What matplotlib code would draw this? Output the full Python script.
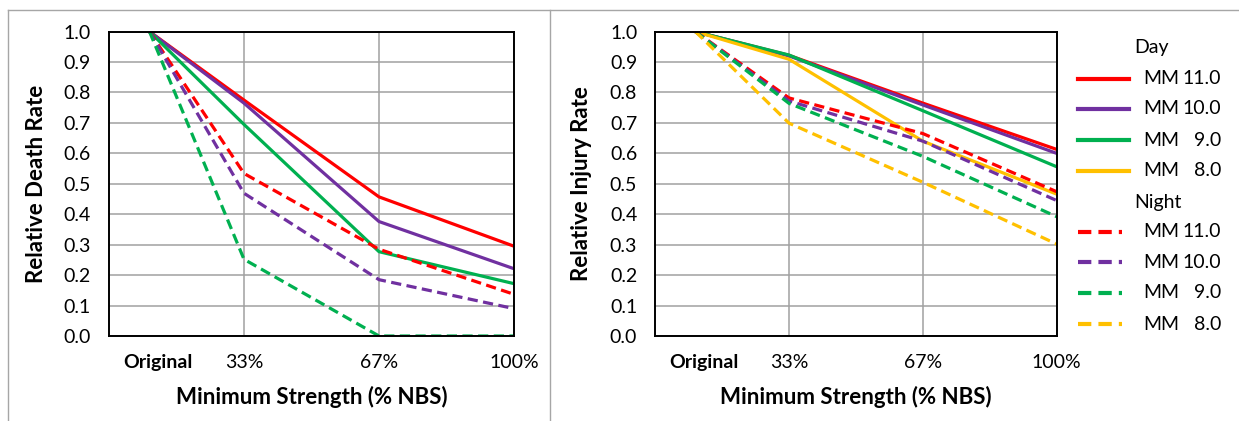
import matplotlib
matplotlib.use("Agg")
import matplotlib.pyplot as plt
from matplotlib.lines import Line2D

plt.rcParams['font.family'] = ['Lato', 'DejaVu Sans']

# ---------- DATA ----------
x_pos = [10, 33.33, 66.67, 100]          # Original, 33%, 67%, 100% NBS
tick_pos = [12, 33.33, 66.67, 100]
tick_labels = ["Original", "33%", "67%", "100%"]

# Relative death rate (left panel)
death_day_11 = [1.0, 0.775, 0.457, 0.295]
death_day_10 = [1.0, 0.765, 0.376, 0.221]
death_day_9 = [1.0, 0.695, 0.277, 0.172]
death_night_11 = [1.0, 0.534, 0.285, 0.137]
death_night_10 = [1.0, 0.469, 0.185, 0.090]
death_night_9 = [1.0, 0.252, 0.0, 0.0]

# Relative injury rate (right panel)
inj_day_11 = [1.0, 0.922, 0.765, 0.613]
inj_day_10 = [1.0, 0.920, 0.759, 0.600]
inj_day_9 = [1.0, 0.923, 0.740, 0.556]
inj_day_8 = [1.0, 0.909, 0.640, 0.466]
inj_night_11 = [1.0, 0.782, 0.665, 0.474]
inj_night_10 = [1.0, 0.772, 0.640, 0.445]
inj_night_9 = [1.0, 0.764, 0.590, 0.392]
inj_night_8 = [1.0, 0.699, 0.505, 0.302]

# ---------- STYLE ----------
RED, PURPLE, GREEN, YELLOW = '#FF0000', '#7030A0', '#00B050', '#FFC000'
LW = 2.3
DASH = (0, (3.2, 1.7))
W, H = 1239, 421
TICK_FS = 14
LABEL_FS = 16
LEG_FS = 14

fig = plt.figure(figsize=(W / 100, H / 100), dpi=100)

ax_death = fig.add_axes([109 / W, 85 / H, 405 / W, 304.4 / H])
ax_inj = fig.add_axes([655.3 / W, 85 / H, 401.4 / W, 304.4 / H])

# Left panel
ax_death.plot(x_pos, death_day_11, color=RED, lw=LW)
ax_death.plot(x_pos, death_day_10, color=PURPLE, lw=LW)
ax_death.plot(x_pos, death_day_9, color=GREEN, lw=LW)
ax_death.plot(x_pos, death_night_11, color=RED, lw=LW, ls=DASH)
ax_death.plot(x_pos, death_night_10, color=PURPLE, lw=LW, ls=DASH)
ax_death.plot(x_pos, death_night_9, color=GREEN, lw=LW, ls=DASH)

# Right panel
ax_inj.plot(x_pos, inj_day_11, color=RED, lw=LW)
ax_inj.plot(x_pos, inj_day_10, color=PURPLE, lw=LW)
ax_inj.plot(x_pos, inj_day_9, color=GREEN, lw=LW)
ax_inj.plot(x_pos, inj_day_8, color=YELLOW, lw=LW)
ax_inj.plot(x_pos, inj_night_11, color=RED, lw=LW, ls=DASH)
ax_inj.plot(x_pos, inj_night_10, color=PURPLE, lw=LW, ls=DASH)
ax_inj.plot(x_pos, inj_night_9, color=GREEN, lw=LW, ls=DASH)
ax_inj.plot(x_pos, inj_night_8, color=YELLOW, lw=LW, ls=DASH)

for ax, ylab in [(ax_death, "Relative Death Rate"), (ax_inj, "Relative Injury Rate")]:
    ax.set_xlim(0, 100)
    ax.set_ylim(0, 1.0)
    ax.set_yticks([i / 10 for i in range(11)])
    ax.set_yticklabels([f"{i / 10:.1f}" for i in range(11)])
    ax.set_xticks(tick_pos)
    ax.set_xticklabels(tick_labels)
    ax.get_xticklabels()[0].set_fontweight('bold')
    ax.tick_params(axis='both', length=0, labelsize=TICK_FS, colors='black')
    ax.tick_params(axis='y', pad=13)
    ax.tick_params(axis='x', pad=13)
    ax.grid(True, color='#a0a0a0', lw=1.1)
    ax.get_xgridlines()[0].set_visible(False)
    ax.set_axisbelow(True)
    for sp in ax.spines.values():
        sp.set_color('black')
        sp.set_linewidth(1.4)
        sp.set_zorder(5)
    ax.set_xlabel("Minimum Strength (% NBS)", fontsize=LABEL_FS, fontweight='bold')
    ax.set_ylabel(ylab, fontsize=LABEL_FS, fontweight='bold')
    ax.xaxis.label.set_va('center')
    ax.yaxis.label.set_va('center')

ax_death.yaxis.set_label_coords((37 - 109) / 405, 0.5)
ax_inj.yaxis.set_label_coords((581 - 655.3) / 401.4, 0.5)
ax_death.xaxis.set_label_coords(0.5, -(397 - 336) / 304.4)
ax_inj.xaxis.set_label_coords(0.5, -(397 - 336) / 304.4)

# ---------- LEGEND (drawn by hand, Excel style) ----------
def fy(y):
    return 1 - y / H

fig.text(1134 / W, fy(48), "Day", fontsize=LEG_FS, ha='left', va='center')
fig.text(1134 / W, fy(202), "Night", fontsize=LEG_FS, ha='left', va='center')

legend_rows = [
    (79, RED, '-', "11.0"), (109, PURPLE, '-', "10.0"),
    (140, GREEN, '-', "9.0"), (171, YELLOW, '-', "8.0"),
    (232, RED, DASH, "11.0"), (262, PURPLE, DASH, "10.0"),
    (293, GREEN, DASH, "9.0"), (324, YELLOW, DASH, "8.0"),
]
for y, col, ls, num in legend_rows:
    x_end = 1129 if ls == '-' else 1122
    fig.add_artist(Line2D([1078 / W, x_end / W], [fy(y), fy(y)], color=col, lw=3, ls=ls))
    fig.text(1143 / W, fy(y), "MM", fontsize=LEG_FS, ha='left', va='center')
    fig.text(1221 / W, fy(y), num, fontsize=LEG_FS, ha='right', va='center')

# ---------- FRAME LINES ----------
frame_col = '#a6a6a6'
fig.add_artist(Line2D([7.5 / W, 1], [fy(10), fy(10)], color=frame_col, lw=1))
fig.add_artist(Line2D([7.5 / W, 7.5 / W], [0, fy(10)], color=frame_col, lw=1))
fig.add_artist(Line2D([550 / W, 550 / W], [0, fy(10)], color=frame_col, lw=1))

fig.savefig("out.png", dpi=100)
